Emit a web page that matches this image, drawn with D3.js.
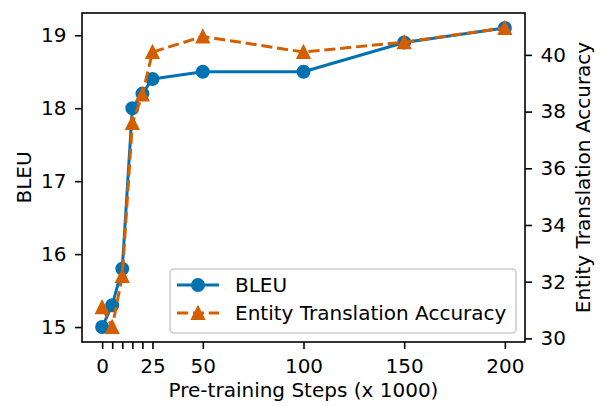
<!DOCTYPE html>
<html><head><meta charset="utf-8">
<script src="https://cdn.jsdelivr.net/npm/d3@7"></script>
<style>body{margin:0;background:#fff}svg{display:block}text{font-family:"DejaVu Sans",sans-serif;fill:#000}</style>
</head><body><svg id="c" width="600" height="406"></svg>
<script>
const steps = [0, 5, 10, 15, 20, 25, 50, 100, 150, 200];
const bleu = [15.0, 15.3, 15.8, 18.0, 18.2, 18.4, 18.5, 18.5, 18.9, 19.1];
const entityAcc = [31.1, 30.4, 32.2, 37.6, 38.6, 40.1, 40.65, 40.1, 40.45, 40.95];
const xTicks = [0, 5, 10, 15, 20, 25, 50, 100, 150, 200];
const xTickLabels = ["0", "", "", "", "", "25", "50", "100", "150", "200"];
const leftTicks = [15, 16, 17, 18, 19];
const rightTicks = [30, 32, 34, 36, 38, 40];
const seriesNames = ["BLEU", "Entity Translation Accuracy"];
const colors = ["#0072B2", "#D55E00"];

const svg = d3.select("#c");
const L = 82, R = 525, T = 13, B = 342;
const fs = 20;

function pad(ext){const d=ext[1]-ext[0];return [ext[0]-0.05*d, ext[1]+0.05*d];}
const x = d3.scaleLinear().domain(pad(d3.extent(steps))).range([L, R]);
const yL = d3.scaleLinear().domain(pad(d3.extent(bleu))).range([B, T]);
const yR = d3.scaleLinear().domain(pad(d3.extent(entityAcc))).range([B, T]);

function styleAxis(g){
  g.selectAll("path.domain").remove();
  g.selectAll("line").attr("stroke","#000").attr("stroke-width",1.6);
  g.selectAll("text").style("font-size", fs+"px").style("font-family","DejaVu Sans");
}
const tl = 7;
svg.append("g").attr("transform",`translate(0,${B})`)
  .call(d3.axisBottom(x).tickValues(xTicks).tickFormat((d,i)=>xTickLabels[i]).tickSizeInner(tl).tickSizeOuter(0).tickPadding(10))
  .call(styleAxis);
svg.append("g").attr("transform",`translate(${L},0)`)
  .call(d3.axisLeft(yL).tickValues(leftTicks).tickFormat(d3.format("d")).tickSizeInner(tl).tickSizeOuter(0).tickPadding(8.5))
  .call(styleAxis);
svg.append("g").attr("transform",`translate(${R},0)`)
  .call(d3.axisRight(yR).tickValues(rightTicks).tickFormat(d3.format("d")).tickSizeInner(tl).tickSizeOuter(0).tickPadding(8.5))
  .call(styleAxis);

const lw = 3, dash = "11.1,4.8";
// series 1
const line1 = d3.line().x((d,i)=>x(steps[i])).y(d=>yL(d));
svg.append("path").datum(bleu).attr("d",line1).attr("fill","none").attr("stroke",colors[0]).attr("stroke-width",lw).attr("stroke-linejoin","round").attr("stroke-linecap","square");
svg.append("g").selectAll("circle").data(bleu).join("circle")
  .attr("cx",(d,i)=>x(steps[i])).attr("cy",d=>yL(d)).attr("r",6)
  .attr("fill",colors[0]).attr("stroke",colors[0]).attr("stroke-width",2);

// series 2
const line2 = d3.line().x((d,i)=>x(steps[i])).y(d=>yR(d));
svg.append("path").datum(entityAcc).attr("d",line2).attr("fill","none").attr("stroke",colors[1]).attr("stroke-width",lw).attr("stroke-dasharray",dash).attr("stroke-linejoin","round");
const tri = d3.symbol().type({draw(ctx){ctx.moveTo(0,-6);ctx.lineTo(-6,6);ctx.lineTo(6,6);ctx.closePath();}});
svg.append("g").selectAll("path").data(entityAcc).join("path")
  .attr("transform",(d,i)=>`translate(${x(steps[i])},${yR(d)})`).attr("d",tri())
  .attr("fill",colors[1]).attr("stroke",colors[1]).attr("stroke-width",2).attr("stroke-linejoin","miter");

// frame
svg.append("rect").attr("x",L).attr("y",T).attr("width",R-L).attr("height",B-T).attr("fill","none").attr("stroke","#000").attr("stroke-width",1.6);

// labels
svg.append("text").attr("x",(L+R)/2).attr("y",397).attr("text-anchor","middle").style("font-size",fs+"px").text("Pre-training Steps (x 1000)");
svg.append("text").attr("transform",`translate(31,${(T+B)/2}) rotate(-90)`).attr("text-anchor","middle").style("font-size",fs+"px").text("BLEU");
svg.append("text").attr("transform",`translate(590,${(T+B)/2}) rotate(-90)`).attr("text-anchor","middle").style("font-size",fs+"px").text("Entity Translation Accuracy");

// legend
const lg = svg.append("g");
lg.append("rect").attr("x",170).attr("y",269).attr("width",346).attr("height",64).attr("rx",4)
  .attr("fill","#fff").attr("fill-opacity",0.8).attr("stroke","#cccccc").attr("stroke-width",1.6);
[0,1].forEach(k=>{
  const yy = 285 + k*28;
  lg.append("line").attr("x1",177).attr("x2",219).attr("y1",yy).attr("y2",yy).attr("stroke",colors[k]).attr("stroke-width",lw)
    .attr("stroke-dasharray", k? dash:null);
  if(k===0) lg.append("circle").attr("cx",198).attr("cy",yy).attr("r",6).attr("fill",colors[0]).attr("stroke",colors[0]).attr("stroke-width",2);
  else lg.append("path").attr("transform",`translate(198,${yy})`).attr("d",tri()).attr("fill",colors[1]).attr("stroke",colors[1]).attr("stroke-width",2);
  lg.append("text").attr("x",235).attr("y",yy).attr("dy","0.36em").style("font-size",fs+"px").text(seriesNames[k]);
});
</script></body></html>
